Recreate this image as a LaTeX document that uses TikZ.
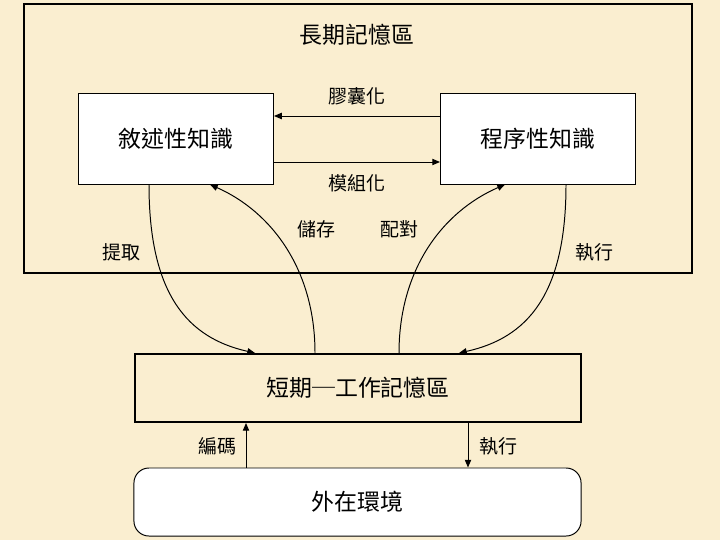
\documentclass[tikz,border=0pt]{standalone}
\usepackage{fontspec}
\setmainfont{Noto Sans CJK TC}
\usetikzlibrary{positioning, arrows.meta}
\definecolor{parchment}{RGB}{250,238,208}
\newcommand{\boxfont}{\fontsize{16.3}{18}\selectfont}
\newcommand{\lblfont}{\fontsize{13.5}{15}\selectfont}

\tikzset{
  kbox/.style={draw, fill=white, line width=0.7pt, minimum width=4.875cm, minimum height=2.25cm, font=\boxfont},
  membox/.style={draw, line width=1.4pt, font=\boxfont},
  lbl/.style={font=\lblfont, inner sep=1pt},
  arr/.style={line width=0.7pt, -{Triangle[length=5.5pt,width=4.5pt]}}
}

\begin{document}
\begin{tikzpicture}[x=0.025cm, y=-0.025cm]
% background
\fill[parchment] (0,0) rectangle (720,540);

% long-term memory
\node[membox, minimum width=16.7cm, minimum height=6.725cm] (ltm) at (358,138.5) {};
\node[font=\boxfont] (ltmtitle) at (357,35) {長期記憶區};

% knowledge boxes
\node[kbox] (decl) at (176,139) {敘述性知識};
\node[kbox] (proc) at (538,139) {程序性知識};
\draw[arr] (proc.west |- 0,116) -- (decl.east |- 0,116);
\draw[arr] (decl.east |- 0,162) -- (proc.west |- 0,162);
\node[lbl] (capsule) at (357,96) {膠囊化};
\node[lbl] (module) at (357,183) {模組化};

% short-term working memory
\node[membox, fill=parchment, minimum width=11.15cm, minimum height=1.7cm] (stm) at (358,388) {短期─工作記憶區};

% curved links
\draw[arr] (decl.south -| 149,0) .. controls (149,295) and (188,338) .. (stm.north -| 255,0);
\draw[arr] (stm.north -| 315,0) .. controls (315,270) and (272,212) .. (decl.south -| 210,0);
\draw[arr] (stm.north -| 399,0) .. controls (399,270) and (442,212) .. (proc.south -| 505,0);
\draw[arr] (proc.south -| 566,0) .. controls (566,295) and (527,338) .. (stm.north -| 459,0);
\node[lbl] (fetch) at (121,252) {提取};
\node[lbl] (store) at (316,229) {儲存};
\node[lbl] (match) at (399,229) {配對};
\node[lbl] (runup) at (594,252) {執行};

% environment
\node[draw, fill=white, line width=0.7pt, rounded corners=0.375cm, minimum width=11.175cm, minimum height=1.7cm, font=\boxfont] (env) at (357.5,502) {外在環境};
\draw[arr] (env.north -| 246,0) -- (stm.south -| 246,0);
\draw[arr] (stm.south -| 468,0) -- (env.north -| 468,0);
\node[lbl] (encode) at (217,446) {編碼};
\node[lbl] (rundown) at (498,446) {執行};
\end{tikzpicture}
\end{document}
